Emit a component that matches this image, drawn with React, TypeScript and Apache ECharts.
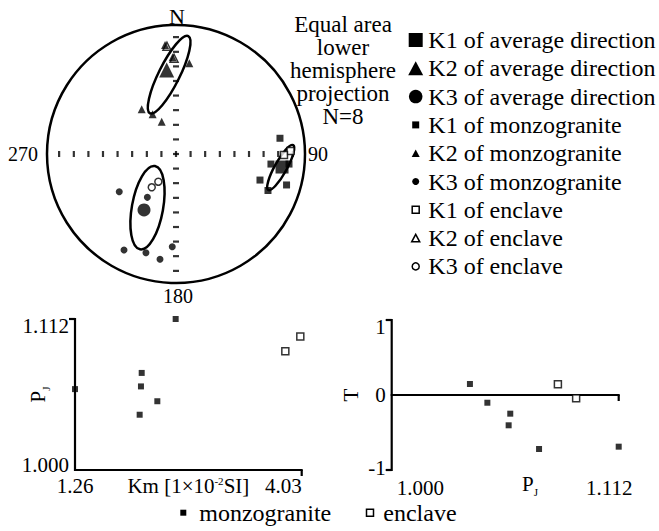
import React, { useEffect, useRef } from 'react';
import * as echarts from 'echarts';

const FONT = 'Liberation Serif';

// ---- Stereonet data (unit circle, x = east, y = north) ----
const k1Average = [[0.822, -0.101]];
const k2Average = [[-0.072, 0.651]];
const k3Average = [[-0.248, -0.434]];
const k1Monzogranite = [[0.806, 0.122], [0.736, -0.078], [0.876, -0.078], [0.651, -0.202], [0.713, -0.283], [0.857, -0.24]];
const k2Monzogranite = [[-0.085, 0.845], [-0.026, 0.75], [0.103, 0.703], [-0.266, 0.347], [-0.181, 0.308], [-0.111, 0.25]];
const k3Monzogranite = [[-0.44, -0.292], [-0.222, -0.336], [-0.403, -0.744], [-0.233, -0.765], [-0.124, -0.816], [-0.029, -0.719]];
const k1Enclave = [[0.888, 0.023], [0.837, -0.008]];
const k2Enclave = [[-0.07, 0.835], [-0.015, 0.742]];
const k3Enclave = [[-0.188, -0.258], [-0.137, -0.215]];
// [centerX, centerY, semiMajor, semiMinor, azimuth of major axis (deg)]
const confidenceEllipses = [
  [0.812, -0.105, 0.199, 0.047, 29],
  [-0.053, 0.615, 0.334, 0.081, 26.4],
  [-0.221, -0.416, 0.328, 0.121, 10.2],
];
const stereoTicks = [0, 0.113, 0.226, 0.34, 0.453, 0.566, 0.679, 0.792, 0.906, -0.113, -0.226, -0.34, -0.453, -0.566, -0.679, -0.792, -0.906];

// ---- Km vs PJ ----
const kmMonzogranite = [2.49, 2.075, 2.066, 2.266, 2.05, 1.26];
const pjMonzograniteA = [1.112, 1.072, 1.062, 1.051, 1.041, 1.06];
const kmEnclave = [3.83, 4.013];
const pjEnclaveA = [1.088, 1.099];
const kmTicks = [1.26, 4.03];
const pjTicks = [1.0, 1.112];

// ---- PJ vs T ----
const pjMonzograniteB = [1.0386, 1.0472, 1.0585, 1.0577, 1.0727, 1.112];
const tMonzogranite = [0.147, -0.103, -0.249, -0.404, -0.72, -0.689];
const pjEnclaveB = [1.082, 1.091];
const tEnclave = [0.143, -0.044];
const tTicks = [-1, 0, 1];

const legendNames = [
  'K1 of average direction',
  'K2 of average direction',
  'K3 of average direction',
  'K1 of monzogranite',
  'K2 of monzogranite',
  'K3 of monzogranite',
  'K1 of enclave',
  'K2 of enclave',
  'K3 of enclave',
];
const rockNames = ['monzogranite', 'enclave'];

const black = '#000';
const openStyle = { color: '#fff', borderColor: black, borderWidth: 1.5 };
const filledStyle = { color: black };

function pair(xs: number[], ys: number[]) {
  return xs.map((x, i) => [x, ys[i]]);
}

const near = (a: number, b: number) => Math.abs(a - b) < 1e-6;

// axis frame segments [x1, y1, x2, y2] and ticks [x, y, direction(0 = down, 1 = left)]
const frameA = [
  [kmTicks[0], pjTicks[1], kmTicks[0], pjTicks[0]],
  [kmTicks[0], pjTicks[0], kmTicks[1], pjTicks[0]],
];
const ticksA = [[kmTicks[1], pjTicks[0], 0], [kmTicks[0], pjTicks[1], 1]];
const frameB = [
  [pjTicks[0], tTicks[0], pjTicks[0], tTicks[2]],
  [pjTicks[0], tTicks[1], pjTicks[1], tTicks[1]],
];
const ticksB = [[pjTicks[1], tTicks[1], 0], [pjTicks[0], tTicks[2], 1], [pjTicks[0], tTicks[0], 1]];

function frameSeries(axisIndex: number, segs: number[][], ticks: number[][]) {
  return [
    {
      type: 'custom', xAxisIndex: axisIndex, yAxisIndex: axisIndex, silent: true, clip: false, z: 3,
      data: segs,
      renderItem: (_p: any, api: any) => {
        const a = api.coord([api.value(0), api.value(1)]);
        const b = api.coord([api.value(2), api.value(3)]);
        const hor = Math.abs(a[1] - b[1]) < 0.5;
        const e = 1;
        const x1 = hor ? Math.min(a[0], b[0]) - e : a[0];
        const x2 = hor ? Math.max(a[0], b[0]) + e : b[0];
        const y1 = hor ? a[1] : Math.min(a[1], b[1]) - e;
        const y2 = hor ? b[1] : Math.max(a[1], b[1]) + e;
        return { type: 'line', shape: { x1, y1, x2, y2 }, style: { stroke: black, lineWidth: 2.2 } };
      },
    },
    {
      type: 'custom', xAxisIndex: axisIndex, yAxisIndex: axisIndex, silent: true, clip: false, z: 3,
      data: ticks,
      renderItem: (_p: any, api: any) => {
        const p = api.coord([api.value(0), api.value(1)]);
        const down = api.value(2) === 0;
        return {
          type: 'line',
          shape: down ? { x1: p[0], y1: p[1], x2: p[0], y2: p[1] + 6 } : { x1: p[0], y1: p[1], x2: p[0] - 6, y2: p[1] },
          style: { stroke: black, lineWidth: 2.2 },
        };
      },
    },
  ];
}

// legend marker drawing (layout only)
function marker(kind: string, size: number, open: boolean, cx: number, cy: number): any {
  const style = open
    ? { fill: '#fff', stroke: black, lineWidth: 1.5 }
    : { fill: black };
  if (kind === 'square') {
    return { type: 'rect', silent: true, shape: { x: cx - size / 2, y: cy - size / 2, width: size, height: size }, style };
  }
  if (kind === 'triangle') {
    const h = size * 0.93;
    return {
      type: 'polygon', silent: true,
      shape: { points: [[cx, cy - h / 2], [cx + size / 2, cy + h / 2], [cx - size / 2, cy + h / 2]] },
      style,
    };
  }
  return { type: 'circle', silent: true, shape: { cx, cy, r: size / 2 }, style };
}

const legendMarkers: [string, number, boolean][] = [
  ['square', 14, false],
  ['triangle', 15, false],
  ['circle', 13.5, false],
  ['square', 7, false],
  ['triangle', 8, false],
  ['circle', 7, false],
  ['square', 7, true],
  ['triangle', 8, true],
  ['circle', 7, true],
];

function buildOption(): any {
  const stereoScatter = (name: string, data: number[][], symbol: string, size: number, open: boolean, z: number) => ({
    name,
    type: 'scatter',
    xAxisIndex: 0,
    yAxisIndex: 0,
    data,
    symbol,
    symbolSize: size,
    itemStyle: open ? openStyle : filledStyle,
    z,
    silent: true,
  });

  const labelBase = { color: black, fontFamily: FONT, fontSize: 21 };
  const pjRich = {
    p: { fontFamily: FONT, fontSize: 21, color: black },
    j: { fontFamily: FONT, fontSize: 11, color: black, padding: [16, 0, 0, 0] },
  };

  const legendGraphics: any[] = [];
  legendNames.forEach((name, i) => {
    const cy = 40 + i * 28.3;
    const [kind, size, open] = legendMarkers[i];
    legendGraphics.push(marker(kind, size, open, 415.7, cy));
    legendGraphics.push({
      type: 'text', x: 428.3, y: cy, silent: true,
      style: { text: name, fontFamily: FONT, fontSize: 24, fill: black, align: 'left', verticalAlign: 'middle' },
    });
  });
  legendGraphics.push(marker('square', 6, false, 183.3, 512.7));
  legendGraphics.push({
    type: 'text', x: 199.3, y: 512.7, silent: true,
    style: { text: rockNames[0], fontFamily: FONT, fontSize: 24, fill: black, align: 'left', verticalAlign: 'middle' },
  });
  legendGraphics.push(marker('square', 7, true, 370, 512.7));
  legendGraphics.push({
    type: 'text', x: 383.3, y: 512.7, silent: true,
    style: { text: rockNames[1], fontFamily: FONT, fontSize: 24, fill: black, align: 'left', verticalAlign: 'middle' },
  });

  return {
    animation: false,
    backgroundColor: '#fff',
    textStyle: { fontFamily: FONT, color: black },
    grid: [
      { left: 47, top: 25, width: 258, height: 258, outerBoundsMode: 'none', containLabel: false },
      { left: 75, top: 319, width: 226.7, height: 151, outerBoundsMode: 'none', containLabel: false },
      { left: 391.7, top: 320, width: 227, height: 150, outerBoundsMode: 'none', containLabel: false },
    ],
    xAxis: [
      { gridIndex: 0, type: 'value', min: -1, max: 1, show: false },
      {
        gridIndex: 1, type: 'value', min: 1.26, max: 4.03,
        axisLine: { show: false },
        axisTick: { show: false },
        axisLabel: {
          ...labelBase, margin: 5, customValues: kmTicks, alignMaxLabel: 'right',
          formatter: (v: number) => v.toFixed(2),
        },
        splitLine: { show: false },
        name: '{a|Km [1×10}{s|-2}{a|SI]}',
        nameLocation: 'middle',
        nameGap: 5,
        nameMoveOverlap: false,
        nameTextStyle: {
          rich: {
            a: { fontFamily: FONT, fontSize: 21, color: black },
            s: { fontFamily: FONT, fontSize: 11, color: black, padding: [0, 0, 10, 0] },
          },
        },
      },
      {
        gridIndex: 2, type: 'value', min: 1.0, max: 1.112,
        axisLine: { show: false, onZero: true },
        axisTick: { show: false },
        axisLabel: {
          ...labelBase, margin: 7, customValues: pjTicks, alignMinLabel: 'left',
          formatter: (v: number) => (near(v, 1) ? '{mn|' + v.toFixed(3) + '}' : '{mx|' + v.toFixed(3) + '}'),
          rich: {
            mn: { ...labelBase, padding: [0, 0, 0, 5] },
            mx: { ...labelBase, padding: [0, 19, 0, 0] },
          },
        },
        splitLine: { show: false },
      },
    ],
    yAxis: [
      { gridIndex: 0, type: 'value', min: -1, max: 1, show: false },
      {
        gridIndex: 1, type: 'value', min: 1.0, max: 1.112,
        axisLine: { show: false },
        axisTick: { show: false },
        axisLabel: {
          ...labelBase, margin: 6, customValues: pjTicks,
          formatter: (v: number) => (near(v, 1) ? '{lo|' + v.toFixed(3) + '}' : '{hi|' + v.toFixed(3) + '}'),
          rich: {
            lo: { ...labelBase, padding: [0, 0, 10, 0] },
            hi: { ...labelBase, padding: [14, 0, 0, 0] },
          },
        },
        splitLine: { show: false },
        name: '{p|P}{j|J}',
        nameLocation: 'middle',
        nameGap: 24,
        nameMoveOverlap: false,
        nameTextStyle: { rich: pjRich },
      },
      {
        gridIndex: 2, type: 'value', min: -1, max: 1,
        axisLine: { show: false },
        axisTick: { show: false },
        axisLabel: {
          ...labelBase, margin: 6, customValues: tTicks,
          formatter: (v: number) => (v > 0.5 ? '{hi|' + v + '}' : v < -0.5 ? '{lo|' + v + '}' : '{md|' + v + '}'),
          rich: {
            lo: { ...labelBase, padding: [0, 0, 4, 0] },
            hi: { ...labelBase, padding: [13, 0, 0, 0] },
            md: { ...labelBase },
          },
        },
        splitLine: { show: false },
        name: 'T',
        nameLocation: 'middle',
        nameGap: 30,
        nameMoveOverlap: false,
        nameTextStyle: { fontFamily: FONT, fontSize: 21, color: black },
      },
    ],
    graphic: [
      { type: 'text', x: 177, y: 16, silent: true, style: { text: 'N', fontFamily: FONT, fontSize: 22, fill: black, align: 'center', verticalAlign: 'middle' } },
      { type: 'text', x: 178, y: 296, silent: true, style: { text: '180', fontFamily: FONT, fontSize: 20, fill: black, align: 'center', verticalAlign: 'middle' } },
      { type: 'text', x: 38, y: 154, silent: true, style: { text: '270', fontFamily: FONT, fontSize: 20, fill: black, align: 'right', verticalAlign: 'middle' } },
      { type: 'text', x: 308, y: 154, silent: true, style: { text: '90', fontFamily: FONT, fontSize: 20, fill: black, align: 'left', verticalAlign: 'middle' } },
      {
        type: 'text', x: 343, y: 12.5, silent: true,
        style: {
          text: 'Equal area\nlower\nhemisphere\nprojection\nN=8',
          fontFamily: FONT, fontSize: 23, lineHeight: 23, fill: black, align: 'center', verticalAlign: 'top',
        },
      },
      {
        type: 'text', x: 530, y: 484, silent: true,
        style: { text: '{p|P}{j|J}', rich: pjRich, align: 'center', verticalAlign: 'middle' },
      },
      ...legendGraphics,
    ],
    series: [
      {
        type: 'custom', xAxisIndex: 0, yAxisIndex: 0, silent: true, clip: false, z: 1,
        data: [[0, 0, 1]],
        renderItem: (_p: any, api: any) => {
          const c = api.coord([api.value(0), api.value(1)]);
          const r = api.size([api.value(2), 0])[0];
          return { type: 'circle', shape: { cx: c[0], cy: c[1], r }, style: { fill: 'none', stroke: black, lineWidth: 2.5 } };
        },
      },
      {
        type: 'custom', xAxisIndex: 0, yAxisIndex: 0, silent: true, clip: false, z: 2,
        data: confidenceEllipses,
        renderItem: (_p: any, api: any) => {
          const c = api.coord([api.value(0), api.value(1)]);
          const major = api.size([api.value(2), 0])[0];
          const minor = api.size([api.value(3), 0])[0];
          return {
            type: 'ellipse', x: c[0], y: c[1], rotation: (-api.value(4) * Math.PI) / 180,
            shape: { cx: 0, cy: 0, rx: minor, ry: major },
            style: { fill: 'none', stroke: black, lineWidth: 2.5 },
          };
        },
      },
      {
        type: 'scatter', xAxisIndex: 0, yAxisIndex: 0, silent: true, z: 1,
        data: stereoTicks.map((t) => [t, 0]), symbol: 'rect', symbolSize: [2.2, 6], itemStyle: { color: black },
      },
      {
        type: 'scatter', xAxisIndex: 0, yAxisIndex: 0, silent: true, z: 1,
        data: stereoTicks.map((t) => [0, t]), symbol: 'rect', symbolSize: [6, 2.2], itemStyle: { color: black },
      },
      stereoScatter(legendNames[7], k2Enclave, 'triangle', 8, true, 3),
      stereoScatter(legendNames[6], k1Enclave, 'rect', 7, true, 3),
      stereoScatter(legendNames[8], k3Enclave, 'circle', 7, true, 3),
      stereoScatter(legendNames[3], k1Monzogranite, 'rect', 7, false, 4),
      stereoScatter(legendNames[4], k2Monzogranite, 'triangle', 8, false, 4),
      stereoScatter(legendNames[5], k3Monzogranite, 'circle', 7, false, 4),
      stereoScatter(legendNames[0], k1Average, 'rect', 13, false, 5),
      stereoScatter(legendNames[1], k2Average, 'triangle', 15, false, 5),
      stereoScatter(legendNames[2], k3Average, 'circle', 13, false, 5),
      ...frameSeries(1, frameA, ticksA),
      ...frameSeries(2, frameB, ticksB),
      {
        name: rockNames[0], type: 'scatter', xAxisIndex: 1, yAxisIndex: 1, symbol: 'rect', symbolSize: 6,
        data: pair(kmMonzogranite, pjMonzograniteA), itemStyle: filledStyle, clip: false, z: 5,
      },
      {
        name: rockNames[1], type: 'scatter', xAxisIndex: 1, yAxisIndex: 1, symbol: 'rect', symbolSize: 7,
        data: pair(kmEnclave, pjEnclaveA), itemStyle: openStyle, clip: false, z: 5,
      },
      {
        name: rockNames[0], type: 'scatter', xAxisIndex: 2, yAxisIndex: 2, symbol: 'rect', symbolSize: 6,
        data: pair(pjMonzograniteB, tMonzogranite), itemStyle: filledStyle, clip: false, z: 5,
      },
      {
        name: rockNames[1], type: 'scatter', xAxisIndex: 2, yAxisIndex: 2, symbol: 'rect', symbolSize: 7,
        data: pair(pjEnclaveB, tEnclave), itemStyle: openStyle, clip: false, z: 5,
      },
    ],
  };
}

export default function App() {
  const ref = useRef<HTMLDivElement>(null);
  useEffect(() => {
    if (!ref.current) return;
    const chart = echarts.init(ref.current, null, { renderer: 'svg' });
    chart.setOption(buildOption());
    return () => chart.dispose();
  }, []);
  return (
    <div
      ref={ref}
      style={{ position: 'fixed', left: 0, top: 0, width: 659, height: 531, background: '#fff' }}
    />
  );
}
